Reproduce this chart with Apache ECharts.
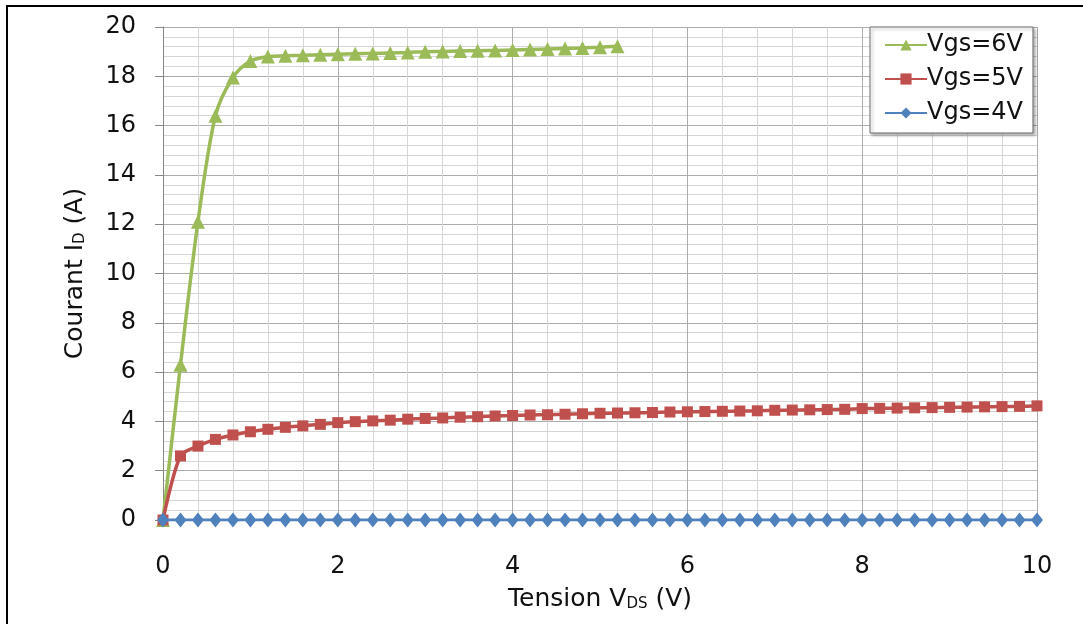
<!DOCTYPE html>
<html>
<head>
<meta charset="utf-8">
<script src="https://cdn.jsdelivr.net/npm/echarts@6/dist/echarts.min.js"></script>
<style>
html,body{margin:0;padding:0;background:#fff;}
#c{width:1083px;height:624px;}
</style>
</head>
<body>
<div id="c"></div>
<script>
// V_DS values (V), 0.2 V steps
var vds = [0,0.2,0.4,0.6,0.8,1.0,1.2,1.4,1.6,1.8,2.0,2.2,2.4,2.6,2.8,3.0,3.2,3.4,3.6,3.8,4.0,4.2,4.4,4.6,4.8,5.0,5.2,5.4,5.6,5.8,6.0,6.2,6.4,6.6,6.8,7.0,7.2,7.4,7.6,7.8,8.0,8.2,8.4,8.6,8.8,9.0,9.2,9.4,9.6,9.8,10.0];
// Vgs = 6V (measured up to 5.2 V)
var id6 = [0,6.3,12.1,16.4,17.95,18.62,18.8,18.83,18.85,18.87,18.89,18.91,18.93,18.95,18.97,19.0,19.01,19.03,19.04,19.05,19.07,19.09,19.11,19.13,19.15,19.18,19.22];
// Vgs = 5V
var id5 = [0,2.6,3.0,3.27,3.45,3.58,3.68,3.76,3.82,3.88,3.95,3.99,4.02,4.05,4.09,4.12,4.14,4.17,4.19,4.22,4.24,4.26,4.27,4.29,4.31,4.33,4.34,4.35,4.36,4.38,4.39,4.40,4.41,4.42,4.43,4.45,4.46,4.47,4.48,4.49,4.52,4.53,4.54,4.55,4.56,4.57,4.58,4.59,4.60,4.61,4.63];
// Vgs = 4V
var id4 = [0,0,0,0,0,0,0,0,0,0,0,0,0,0,0,0,0,0,0,0,0,0,0,0,0,0,0,0,0,0,0,0,0,0,0,0,0,0,0,0,0,0,0,0,0,0,0,0,0,0,0];
var seriesNames = ['Vgs=6V','Vgs=5V','Vgs=4V'];
var xTicks = {min:0, max:10, interval:2};
var yTicks = {min:0, max:20, interval:2};

function pairs(xs, ys){ var out=[]; for(var i=0;i<ys.length;i++){ out.push([xs[i], ys[i]]); } return out; }

var font = '"DejaVu Sans", "Open Sans", sans-serif';
var txt = '#111';
var chart = echarts.init(document.getElementById('c'), null, {renderer:'canvas'});
chart.setOption({
  backgroundColor:'#ffffff',
  animation:false,
  textStyle:{fontFamily:font},
  graphic:[
    {type:'rect', shape:{x:6, y:5, width:2, height:619}, style:{fill:'#000'}, silent:true},
    {type:'rect', shape:{x:6, y:5, width:1077, height:2}, style:{fill:'#000'}, silent:true}
  ],
  grid:{left:163, right:46, top:27, bottom:104, containLabel:false},
  legend:{
    data:seriesNames,
    orient:'vertical',
    left:870, top:27,
    padding:[6,10,8,14],
    itemGap:10,
    itemWidth:42, itemHeight:14,
    backgroundColor:'#fff',
    borderColor:'#6f6f6f', borderWidth:1,
    shadowColor:'rgba(0,0,0,0.3)', shadowBlur:3, shadowOffsetX:2, shadowOffsetY:2,
    textStyle:{fontSize:24, color:txt, fontFamily:font, padding:[0,0,0,-5]}
  },
  xAxis:{
    type:'value', min:xTicks.min, max:xTicks.max, interval:xTicks.interval,
    name:'{a|Tension V}{s|DS}{a| (V)}',
    nameLocation:'middle', nameGap:67,
    nameTextStyle:{rich:{a:{fontSize:25,color:txt,fontFamily:font},s:{fontSize:15,color:txt,fontFamily:font,verticalAlign:'bottom',padding:[10,0,0,0]}}},
    axisLine:{show:true, onZero:false, lineStyle:{color:'#868686', width:1}},
    axisTick:{show:true, length:6, lineStyle:{color:'#868686'}},
    axisLabel:{fontSize:24, color:txt, margin:35, fontFamily:font},
    splitLine:{show:true, lineStyle:{color:'#acacac', width:1}},
    minorTick:{show:false, splitNumber:5},
    minorSplitLine:{show:true, lineStyle:{color:'#d6d6d6', width:1}}
  },
  yAxis:{
    type:'value', min:yTicks.min, max:yTicks.max, interval:yTicks.interval,
    name:'{a|Courant I}{s|D}{a| (A)}',
    nameLocation:'middle', nameGap:75, nameRotate:90,
    nameTextStyle:{rich:{a:{fontSize:25,color:txt,fontFamily:font},s:{fontSize:15,color:txt,fontFamily:font,verticalAlign:'bottom',padding:[10,0,0,0]}}},
    axisLine:{show:true, lineStyle:{color:'#868686', width:1}},
    axisTick:{show:true, length:8, lineStyle:{color:'#868686'}},
    axisLabel:{fontSize:24, color:txt, margin:27, fontFamily:font},
    splitLine:{show:true, lineStyle:{color:'#acacac', width:1}},
    minorTick:{show:false, splitNumber:5},
    minorSplitLine:{show:true, lineStyle:{color:'#d6d6d6', width:1}}
  },
  series:[
    {name:seriesNames[0], type:'line', data:pairs(vds,id6), smooth:0.3,
     symbol:'triangle', symbolSize:14, color:'#9BBB59',
     lineStyle:{width:3.5, color:'#9BBB59'}, itemStyle:{color:'#9BBB59'}, z:2},
    {name:seriesNames[1], type:'line', data:pairs(vds,id5), smooth:0.3,
     symbol:'rect', symbolSize:11, color:'#C0504D',
     lineStyle:{width:3.5, color:'#C0504D'}, itemStyle:{color:'#C0504D'}, z:3},
    {name:seriesNames[2], type:'line', data:pairs(vds,id4), smooth:0.3,
     symbol:'diamond', symbolSize:[12,15], color:'#4F81BD',
     lineStyle:{width:3, color:'#4F81BD'}, itemStyle:{color:'#4F81BD'}, z:4}
  ]
});
</script>
</body>
</html>
